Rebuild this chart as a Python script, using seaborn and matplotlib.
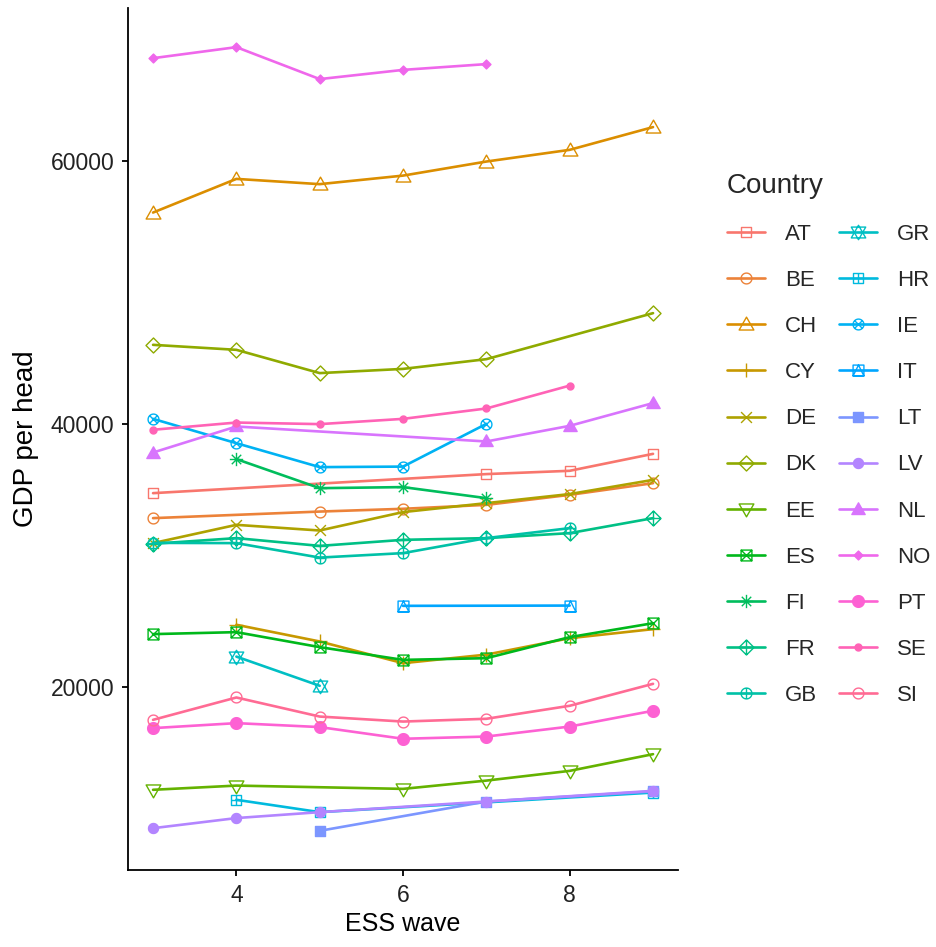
import numpy as np
import pandas as pd
import matplotlib
matplotlib.use("Agg")
import matplotlib.pyplot as plt
from matplotlib.path import Path
import seaborn as sns

# GDP per head by ESS wave
countries = ["AT", "BE", "CH", "CY", "DE", "DK", "EE", "ES", "FI", "FR", "GB",
             "GR", "HR", "IE", "IT", "LT", "LV", "NL", "NO", "PT", "SE", "SI"]
waves = [
    [3, 7, 8, 9],
    [3, 5, 6, 7, 8, 9],
    [3, 4, 5, 6, 7, 8, 9],
    [4, 5, 6, 7, 8, 9],
    [3, 4, 5, 6, 7, 8, 9],
    [3, 4, 5, 6, 7, 9],
    [3, 4, 6, 7, 8, 9],
    [3, 4, 5, 6, 7, 8, 9],
    [4, 5, 6, 7],
    [3, 4, 5, 6, 7, 8, 9],
    [3, 4, 5, 6, 7, 8],
    [4, 5],
    [4, 5, 9],
    [3, 4, 5, 6, 7],
    [6, 8],
    [5, 7, 9],
    [3, 4, 5, 7, 9],
    [3, 4, 7, 8, 9],
    [3, 4, 5, 6, 7],
    [3, 4, 5, 6, 7, 8, 9],
    [3, 4, 5, 6, 7, 8],
    [3, 4, 5, 6, 7, 8, 9],
]
gdp = [
    [34730, 36180, 36430, 37720],
    [32830, 33330, 33540, 33840, 34600, 35490],
    [56070, 58630, 58230, 58880, 59950, 60840, 62570],
    [24720, 23450, 21800, 22450, 23700, 24390],
    [30930, 32320, 31890, 33290, 33970, 34660, 35740],
    [46010, 45630, 43860, 44180, 44920, 48420],
    [12170, 12490, 12240, 12870, 13610, 14880],
    [24010, 24160, 23020, 22050, 22180, 23780, 24840],
    [37320, 35110, 35190, 34350],
    [30880, 31310, 30720, 31180, 31310, 31690, 32830],
    [30950, 30930, 29830, 30170, 31310, 32070],
    [22300, 20080],
    [11410, 10470, 11960],
    [40380, 38530, 36710, 36750, 40000],
    [26160, 26180],
    [9050, 11280, 12050],
    [9250, 10020, 10470, 11280, 12090],
    [37820, 39800, 38660, 39850, 41580],
    [67810, 68650, 66220, 66920, 67360],
    [16860, 17240, 16940, 16050, 16220, 16980, 18180],
    [39550, 40100, 39980, 40380, 41170, 42910],
    [17490, 19190, 17740, 17360, 17570, 18560, 20230],
]
x_ticks = [4, 6, 8]
y_ticks = [20000, 40000, 60000]

rows = []
for c, w, g in zip(countries, waves, gdp):
    for wi, gi in zip(w, g):
        rows.append({"Country": c, "wave": wi, "gdp": gi})
df = pd.DataFrame(rows)


def hcl(h, c=100.0, l=65.0):
    """ggplot2 style hue colour (polar CIE Luv -> sRGB)"""
    h = np.deg2rad(h)
    u, v = c * np.cos(h), c * np.sin(h)
    Xn, Yn, Zn = 95.047, 100.0, 108.883
    d = Xn + 15 * Yn + 3 * Zn
    un, vn = 4 * Xn / d, 9 * Yn / d
    Y = Yn * ((l + 16) / 116) ** 3
    up = u / (13 * l) + un
    vp = v / (13 * l) + vn
    X = Y * 9 * up / (4 * vp)
    Z = Y * (12 - 3 * up - 20 * vp) / (4 * vp)
    M = np.array([[3.2406, -1.5372, -0.4986],
                  [-0.9689, 1.8758, 0.0415],
                  [0.0557, -0.2040, 1.0570]])
    rgb = M @ (np.array([X, Y, Z]) / 100)
    rgb = np.where(rgb <= 0.0031308, 12.92 * rgb, 1.055 * np.abs(rgb) ** (1 / 2.4) - 0.055)
    return tuple(np.clip(rgb, 0, 1))


hues = np.linspace(15, 375, len(countries) + 1)[:-1]
colors = [hcl(h) for h in hues]


def shape(*parts):
    """build a marker path from polylines; closed ones get CLOSEPOLY"""
    verts, codes = [], []
    for closed, pts in parts:
        verts += list(pts)
        codes += [Path.MOVETO] + [Path.LINETO] * (len(pts) - 1)
        if closed:
            verts.append(pts[0])
            codes.append(Path.CLOSEPOLY)
    return Path(verts, codes)


def circle_path(r=1.0, n=40):
    t = np.linspace(0, 2 * np.pi, n, endpoint=False)
    return (True, list(zip(r * np.cos(t), r * np.sin(t))))


sq = (True, [(-1, -1), (1, -1), (1, 1), (-1, 1)])
tri_up = (True, [(-1, -0.75), (1, -0.75), (0, 1)])
tri_dn = (True, [(-1, 0.75), (1, 0.75), (0, -1)])
dia = (True, [(0, 1), (1, 0), (0, -1), (-1, 0)])
hline = (False, [(-1, 0), (1, 0)])
vline = (False, [(0, -1), (0, 1)])
d1 = (False, [(-1, -1), (1, 1)])
d2 = (False, [(-1, 1), (1, -1)])
s = 0.707
d1s = (False, [(-s, -s), (s, s)])
d2s = (False, [(-s, s), (s, -s)])
circ = circle_path()
tri_in = (True, [(-1, -1), (1, -1), (0, 1)])

# (path, filled, size in pt) for ggplot shapes 0..21
markers = [
    (shape(sq), False, 7.8),
    (shape(circ), False, 7.8),
    (shape(tri_up), False, 10.6),
    (shape(hline, vline), False, 9.6),
    (shape(d1, d2), False, 7.8),
    (shape(dia), False, 10.8),
    (shape(tri_dn), False, 10.6),
    (shape(sq, d1, d2), False, 7.8),
    (shape(hline, vline, d1s, d2s), False, 9.6),
    (shape(dia, hline, vline), False, 10.8),
    (shape(circ, hline, vline), False, 7.8),
    (shape(tri_up, tri_dn), False, 10.4),
    (shape(sq, hline, vline), False, 7.8),
    (shape(circ, d1s, d2s), False, 7.8),
    (shape(sq, tri_in), False, 7.8),
    (shape(sq), True, 6.8),
    (shape(circ), True, 7.2),
    (shape(tri_up), True, 9.6),
    (shape(dia), True, 6.4),
    (shape(circ), True, 8.4),
    (shape(circ), True, 5.0),
    (shape(circ), False, 7.8),
]

sns.set_theme(style="ticks")
plt.rcParams['font.family'] = ['Liberation Sans', 'DejaVu Sans']

fig = plt.figure(figsize=(9.36, 9.47), dpi=100)
ax = fig.add_axes([0.1368, 0.0813, 0.5876, 0.9103])

for c, col, (mk, filled, ms) in zip(countries, colors, markers):
    sns.lineplot(data=df[df["Country"] == c], x="wave", y="gdp", ax=ax,
                 color=col, linewidth=1.9, marker=mk, markersize=ms,
                 markeredgecolor=col, markerfacecolor=col if filled else "none",
                 markeredgewidth=1.0, errorbar=None, label=c)

# ggplot-like 5% expansion
xmin, xmax = df["wave"].min(), df["wave"].max()
ymin, ymax = df["gdp"].min(), df["gdp"].max()
ax.set_xlim(xmin - 0.05 * (xmax - xmin), xmax + 0.05 * (xmax - xmin))
ax.set_ylim(ymin - 0.05 * (ymax - ymin), ymax + 0.05 * (ymax - ymin))
ax.set_xticks(x_ticks)
ax.set_yticks(y_ticks)
ax.set_xlabel("ESS wave", fontsize=18, color="black", labelpad=4)
ax.set_ylabel("GDP per head", fontsize=20, color="black", labelpad=8)
ax.tick_params(axis="both", labelsize=16.5, colors="black", length=4, width=1.3,
               labelcolor="#222222", pad=6)
for side in ["left", "bottom"]:
    ax.spines[side].set_linewidth(1.3)
    ax.spines[side].set_color("black")
sns.despine(ax=ax)

handles, labels = ax.get_legend_handles_labels()
if ax.get_legend():
    ax.get_legend().remove()
fig.legend(handles, labels, title="Country", ncol=2, frameon=False,
           loc="upper left", bbox_to_anchor=(0.7552, 0.8387),
           fontsize=16, title_fontsize=20, handlelength=1.7,
           handletextpad=0.9, columnspacing=1.0, labelspacing=1.13,
           alignment="left")

fig.savefig("out.png", dpi=100)
